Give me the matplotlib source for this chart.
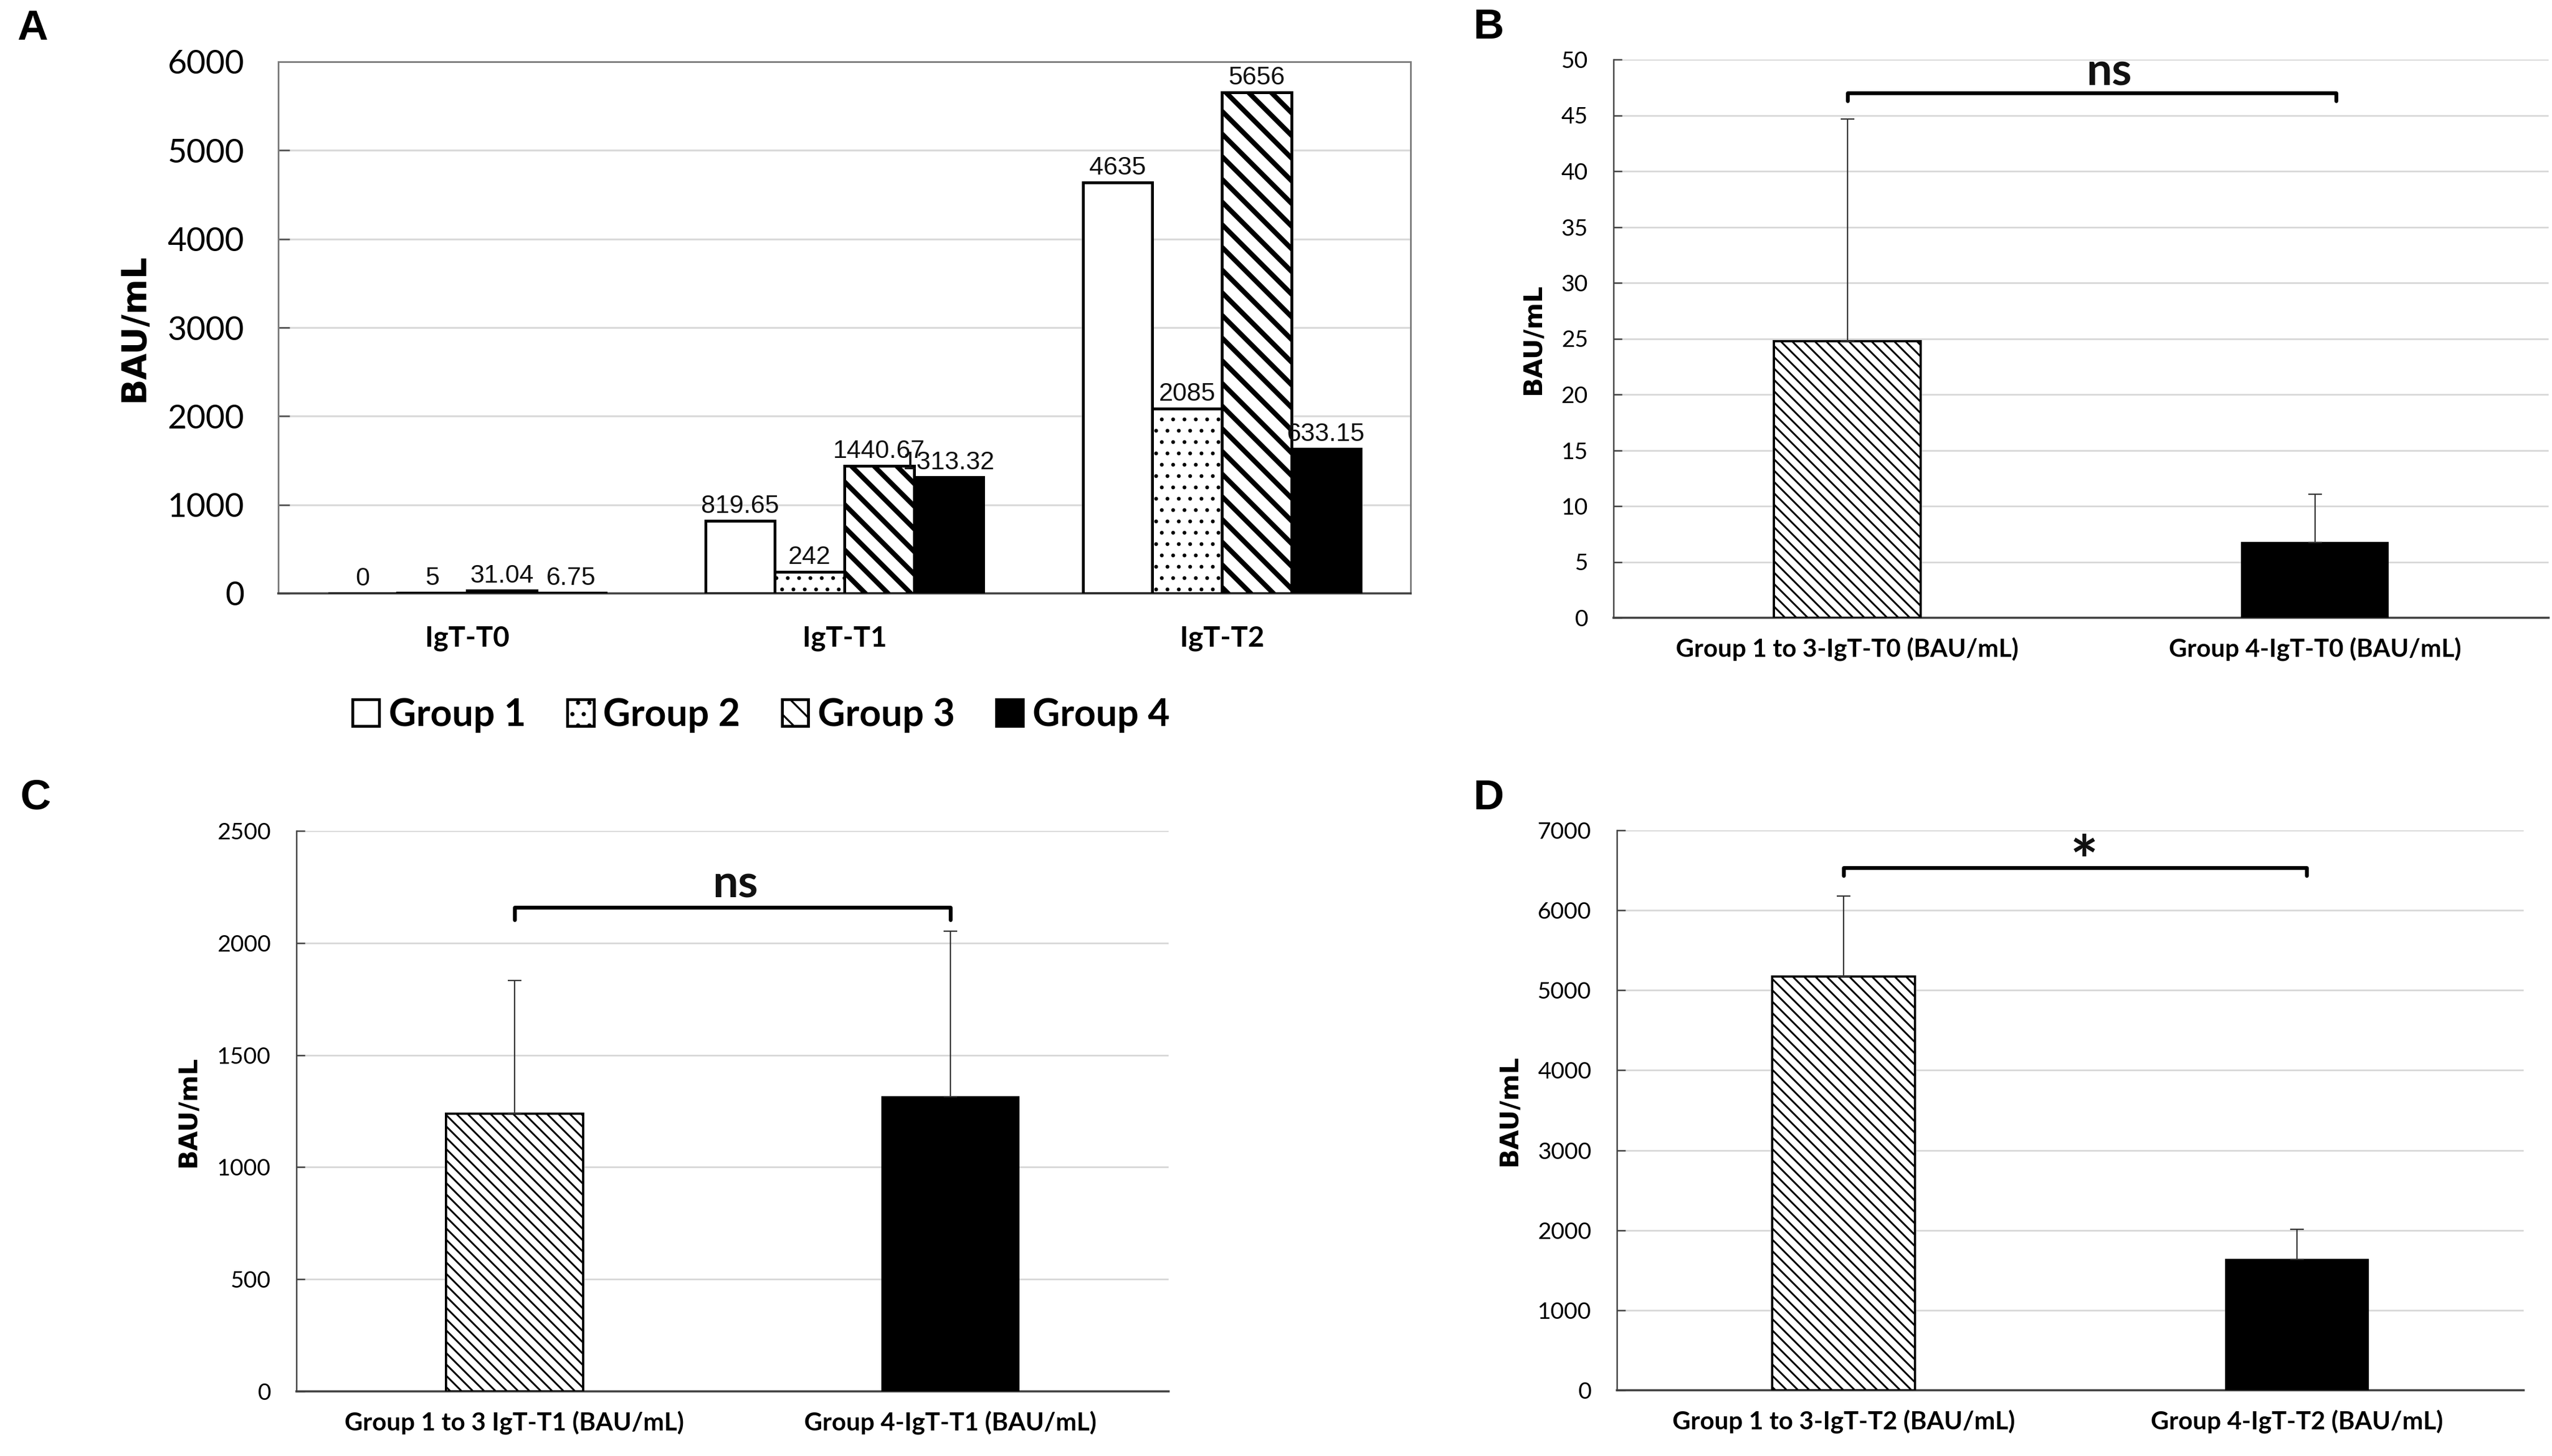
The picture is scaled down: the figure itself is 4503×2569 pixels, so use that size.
import numpy as np
import matplotlib.pyplot as plt

plt.rcParams['font.family'] = ['Lato', 'DejaVu Sans']
plt.rcParams['hatch.linewidth'] = 2.0

# ---- panel A data ----
timepoints = ['IgT-T0', 'IgT-T1', 'IgT-T2']
groups = ['Group 1', 'Group 2', 'Group 3', 'Group 4']
group1 = [0, 819.65, 4635]
group2 = [5, 242, 2085]
group3 = [31.04, 1440.67, 5656]
group4 = [6.75, 1313.32, 1633.15]
labels1 = ['0', '819.65', '4635']
labels2 = ['5', '242', '2085']
labels3 = ['31.04', '1440.67', '5656']
labels4 = ['6.75', '1313.32', '633.15']

# ---- panels B, C, D data ----
b_cats = ['Group 1 to 3-IgT-T0 (BAU/mL)', 'Group 4-IgT-T0 (BAU/mL)']
b_mean = [24.78, 6.75]
b_err = [19.87, 4.3]

c_cats = ['Group 1 to 3 IgT-T1 (BAU/mL)', 'Group 4-IgT-T1 (BAU/mL)']
c_mean = [1239, 1313.32]
c_err = [594, 739]

d_cats = ['Group 1 to 3-IgT-T2 (BAU/mL)', 'Group 4-IgT-T2 (BAU/mL)']
d_mean = [5174, 1633.15]
d_err = [1002, 381]

W, H = 4503, 2569
DPI = 120
fig = plt.figure(figsize=(W / DPI, H / DPI), dpi=DPI)

def set_hatch_lw(container, lw):
    for p in container:
        if hasattr(p, 'set_hatch_linewidth'):
            p.set_hatch_linewidth(lw)

# ================= Panel A =================
axA = fig.add_axes([491 / W, 1 - 1047 / H, 1998 / W, 938 / H])
x = np.arange(len(timepoints))
bw = 0.184
styles = [
    dict(facecolor='white', edgecolor='black', hatch=None),
    dict(facecolor='white', edgecolor='black', hatch='.'),
    dict(facecolor='white', edgecolor='black', hatch='\\'),
    dict(facecolor='black', edgecolor='black', hatch=None),
]
series = [group1, group2, group3, group4]
texts = [labels1, labels2, labels3, labels4]
handles = []
for i, (vals, lab, st) in enumerate(zip(series, texts, styles)):
    pos = x + (i - 1.5) * bw
    bars = axA.bar(pos, vals, bw, linewidth=3, zorder=3, **st)
    set_hatch_lw(bars, 5.2 if i == 2 else 1.6)
    handles.append(bars)
    for px, v, t in zip(pos, vals, lab):
        axA.annotate(t, (px, v), xytext=(0, 3), textcoords='offset points',
                     ha='center', va='bottom', fontsize=27,
                     family='Liberation Sans', color='#111111')

axA.set_xlim(-0.5, 2.5)
axA.set_ylim(0, 6000)
axA.set_yticks(np.arange(0, 6001, 1000))
axA.set_xticks(x)
axA.set_xticklabels(timepoints, fontsize=30, fontweight='bold')
axA.tick_params(axis='y', direction='in', length=12, width=1.8, color='#595959',
                pad=36, labelsize=35)
axA.tick_params(axis='x', length=0, pad=34)
axA.yaxis.grid(True, color='#d9d9d9', linewidth=2)
axA.set_axisbelow(True)
for s in axA.spines.values():
    s.set_color('#7f7f7f')
    s.set_linewidth(1.8)
axA.spines['bottom'].set_color('#404040')
axA.spines['bottom'].set_linewidth(2.2)
axA.text(-0.127, 0.5, 'BAU/mL', transform=axA.transAxes, rotation=90,
         ha='center', va='center', fontsize=36, fontweight='bold',
         family='DejaVu Sans')

fig.legend(handles, groups, loc='center', bbox_to_anchor=(1343 / W, 1 - 1262 / H),
           ncol=4, frameon=False, prop=dict(family='Lato', weight='bold', size=40),
           handlelength=0.7, handleheight=0.7, handletextpad=0.25,
           columnspacing=1.1)

# ================= Panels B, C, D =================
def small_panel(rect, cats, means, errs, ymax, ystep, ylab_x, sig, sig_size,
                sig_x, sig_y, br_x1, br_y, br_low):
    ax = fig.add_axes(rect)
    xx = np.arange(len(cats))
    b1 = ax.bar(xx[0], means[0], 0.314, facecolor='white', edgecolor='black',
                hatch='\\\\', linewidth=2.4, zorder=3)
    set_hatch_lw(b1, 1.9)
    ax.bar(xx[1], means[1], 0.314, facecolor='black', edgecolor='black',
           linewidth=1, zorder=3)
    ax.errorbar(xx, means, yerr=[[0, 0], errs], fmt='none', ecolor='#333333',
                elinewidth=1.4, capsize=7, capthick=1.4, zorder=4)
    ax.plot([0, 0, br_x1, br_x1], [br_low, br_y, br_y, br_low], color='black',
            linewidth=4, solid_joinstyle='round', solid_capstyle='round',
            zorder=5)
    ax.text(sig_x, sig_y, sig, ha='center', va='baseline', fontsize=sig_size,
            fontweight='bold', color='#111111')
    ax.set_xlim(-0.5, 1.5)
    ax.set_ylim(0, ymax)
    ax.set_yticks(np.arange(0, ymax + ystep / 2, ystep))
    ax.set_xticks(xx)
    ax.set_xticklabels(cats, fontsize=26.5, fontweight='bold')
    ax.tick_params(axis='x', length=0, pad=21)
    ax.tick_params(axis='y', direction='in', length=9, width=1.5,
                   color='#404040', pad=27, labelsize=24.5)
    ax.yaxis.grid(True, color='#d9d9d9', linewidth=1.8)
    ax.set_axisbelow(True)
    for s in ['top', 'right']:
        ax.spines[s].set_visible(False)
    ax.spines['left'].set_color('#404040')
    ax.spines['left'].set_linewidth(1.5)
    ax.spines['bottom'].set_color('#404040')
    ax.spines['bottom'].set_linewidth(2.2)
    ax.text(ylab_x, 0.5, 'BAU/mL', transform=ax.transAxes, rotation=90,
            ha='center', va='center', fontsize=27, fontweight='bold',
            family='DejaVu Sans')
    return ax

small_panel([2847 / W, 1 - 1090 / H, 1650 / W, 985 / H], b_cats, b_mean, b_err,
            50, 5, -0.086, 'ns', 48, 0.56, 47.7, 1.045, 47.0, 46.3)
small_panel([523 / W, 1 - 2455 / H, 1539 / W, 989 / H], c_cats, c_mean, c_err,
            2500, 500, -0.124, 'ns', 48, 0.506, 2202, 1.0, 2159, 2103)
small_panel([2853 / W, 1 - 2453 / H, 1600 / W, 988 / H], d_cats, d_mean, d_err,
            7000, 1000, -0.119, '*', 70, 0.53, 6330, 1.021, 6530, 6430)

# panel letters
for letter, lx, ly in [('A', 30, 70), ('B', 2600, 68), ('C', 36, 1428),
                       ('D', 2600, 1428)]:
    fig.text(lx / W, 1 - ly / H, letter, ha='left', va='baseline', fontsize=45,
             fontweight='bold', family='Liberation Sans')

fig.savefig('out.png', dpi=DPI)
